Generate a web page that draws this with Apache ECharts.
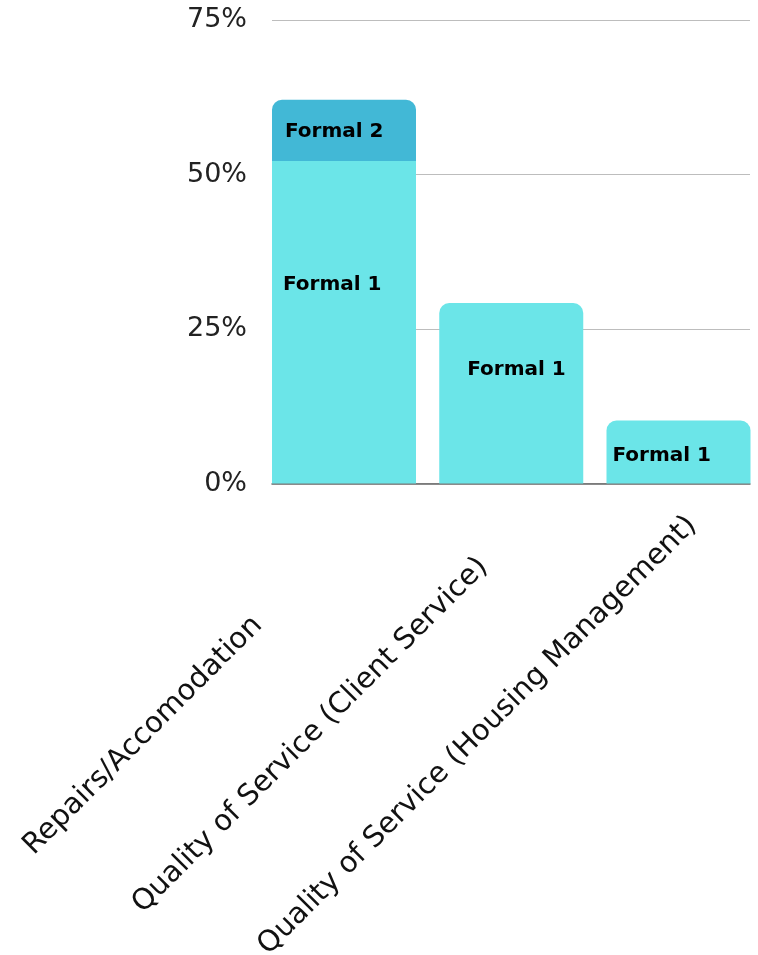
<!DOCTYPE html>
<html>
<head>
<meta charset="utf-8">
<style>
  html, body { margin: 0; padding: 0; background: #ffffff; }
  #chart { width: 758px; height: 955px; }
</style>
<script src="https://cdn.jsdelivr.net/npm/echarts@6/dist/echarts.min.js"></script>
</head>
<body>
<div id="chart"></div>
<script>
// ---- data ----
const categories = ['Repairs/Accomodation', 'Quality of Service (Client Service)', 'Quality of Service (Housing Management)'];
const formal1 = [52.2, 29.2, 10.2];
const formal2 = [9.9, null, null];
const yTicks = [0, 25, 50, 75];
const seriesNames = ['Formal 1', 'Formal 2'];

// ---- styles (not data) ----
const FONT = 'DejaVu Sans';
const color1 = '#6be5e8';
const color2 = '#42b8d6';
const f1LabelPos = [[11, 124], [28, 67], [6, 35]];
const f2LabelPos = [[13, 32], null, null];

const chart = echarts.init(document.getElementById('chart'), null, { renderer: 'canvas' });

const yMin = yTicks[0], yMax = yTicks[yTicks.length - 1], yInt = yTicks[1] - yTicks[0];

function labelFor(name, pos) {
  return {
    show: !!pos,
    position: pos || 'inside',
    align: 'left',
    verticalAlign: 'middle',
    formatter: name,
    color: '#000',
    fontFamily: FONT,
    fontWeight: 'bold',
    fontSize: 20
  };
}

const f1Data = formal1.map((v, i) => ({
  value: v,
  itemStyle: { borderRadius: (formal2[i] ? [0, 0, 0, 0] : [10, 10, 0, 0]) },
  label: labelFor(seriesNames[0], f1LabelPos[i])
}));
const f2Data = formal2.map((v, i) => ({
  value: v == null ? '-' : v,
  itemStyle: { borderRadius: [10, 10, 0, 0] },
  label: labelFor(seriesNames[1], f2LabelPos[i])
}));

const option = {
  backgroundColor: '#ffffff',
  animation: false,
  grid: [
    { left: 344, top: 20, width: 334.5, height: 463.5, outerBoundsMode: 'none', containLabel: false },
    { left: 272, top: 20, width: 478, height: 463.5, outerBoundsMode: 'none', containLabel: false },
    { left: 59.5, top: 20, width: 501.75, height: 463.5, outerBoundsMode: 'none', containLabel: false }
  ],
  xAxis: [
    { gridIndex: 0, type: 'category', data: categories, boundaryGap: false, show: false },
    { gridIndex: 1, type: 'category', data: categories,
      axisLine: { show: true, lineStyle: { color: '#666666', width: 1.5 } },
      axisTick: { show: false }, axisLabel: { show: false }, splitLine: { show: false } },
    { gridIndex: 2, type: 'category', data: categories,
      axisLine: { show: false }, axisTick: { show: false }, splitLine: { show: false },
      axisLabel: {
        show: true, interval: 0, rotate: 45, margin: 252,
        align: 'center', verticalAlign: 'middle',
        fontFamily: FONT, fontSize: 29, color: '#111111'
      } }
  ],
  yAxis: [
    { gridIndex: 0, type: 'value', min: yMin, max: yMax, interval: yInt, show: false },
    { gridIndex: 1, type: 'value', min: yMin, max: yMax, interval: yInt,
      axisLine: { show: false }, axisTick: { show: false },
      splitLine: { show: true, lineStyle: { color: '#bdbdbd', width: 1.2 } },
      axisLabel: { show: true, margin: 25, formatter: '{value}%',
        fontFamily: FONT, fontSize: 27, color: '#222222' } },
    { gridIndex: 2, type: 'value', min: yMin, max: yMax, show: false }
  ],
  series: [
    { name: seriesNames[0], type: 'bar', stack: 'total', xAxisIndex: 0, yAxisIndex: 0, clip: false,
      barWidth: 144, itemStyle: { color: color1 }, data: f1Data, z: 3 },
    { name: seriesNames[1], type: 'bar', stack: 'total', xAxisIndex: 0, yAxisIndex: 0, clip: false,
      barWidth: 144, itemStyle: { color: color2 }, data: f2Data, z: 3 }
  ]
};

chart.setOption(option);
</script>
</body>
</html>
